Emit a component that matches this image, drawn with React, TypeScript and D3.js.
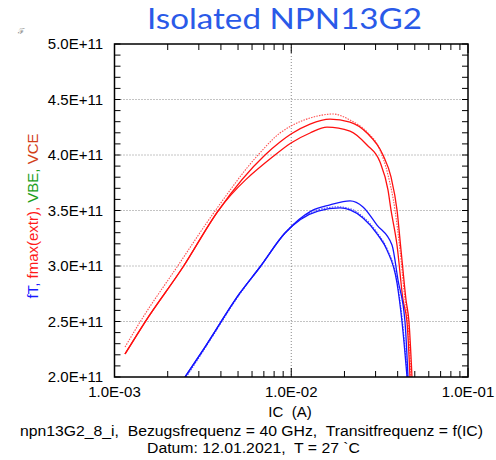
import React from "react";
import * as d3 from "d3";

// IC in mA, frequency in GHz
const r1IC = [1.147, 1.488, 2.441, 3.851, 7.104, 8.638, 9.968, 12.77, 16.57, 21.5, 26.83, 33.04, 36.67, 39.65, 41.78, 44.6, 46.37, 48.21];
const r1F = [220.7, 249.5, 299.1, 349.5, 400.0, 411.7, 418.9, 427.9, 432.4, 429.7, 419.8, 400.0, 380.2, 350.5, 314.4, 269.4, 249.5, 200];

const r2IC = [1.147, 1.488, 2.441, 3.851, 8.091, 9.968, 12.77, 15.93, 21.5, 26.83, 31.78, 35.26, 36.67, 39.65, 42.89, 45.18, 46.97];
const r2F = [220.7, 249.5, 299.1, 349.5, 400.0, 410.8, 419.8, 425.2, 421.6, 409.0, 393.7, 368.5, 350.5, 318.9, 269.4, 249.5, 200];

const r3IC = [1.147, 1.394, 2.258, 3.703, 6.485, 8.638, 9.968, 12.77, 17.23, 21.5, 26.83, 31.78, 35.26, 38.63, 41.24, 44.02, 45.77, 47.59];
const r3F = [227.0, 249.5, 299.1, 349.5, 400.0, 419.8, 426.1, 433.3, 436.9, 431.5, 420.7, 404.5, 382.0, 350.5, 314.4, 269.4, 249.5, 200];

const b1IC = [2.506, 3.251, 5.129, 6.656, 9.218, 12.94, 16.57, 21.5, 25.46, 30.56, 37.15, 40.18, 44.02, 45.77];
const b1F = [200, 227.0, 275.7, 299.1, 329.7, 349.5, 355.0, 358.6, 353.2, 336.9, 318.9, 287.4, 249.5, 200];

const b2IC = [2.506, 3.251, 5.129, 6.656, 9.218, 14.17, 18.87, 21.5, 25.46, 30.96, 34.8, 39.65, 42.34, 45.18];
const b2F = [200, 227.0, 275.7, 299.1, 329.7, 349.5, 352.3, 350.5, 343.2, 327.9, 314.4, 284.7, 249.5, 200];

const b3IC = [2.55, 3.3, 5.2, 6.7, 9.3, 14.0, 18.5, 21.5, 25.5, 31.0, 34.9, 39.8, 42.6, 45.4];
const b3F = [200, 227.5, 276.3, 299.8, 330.4, 350.4, 353.3, 351.6, 344.3, 328.8, 315.2, 285.3, 249.8, 200];

const yTicks = [2.0e11, 2.5e11, 3.0e11, 3.5e11, 4.0e11, 4.5e11, 5.0e11];
const yTickLabels = ["2.0E+11", "2.5E+11", "3.0E+11", "3.5E+11", "4.0E+11", "4.5E+11", "5.0E+11"];
const xTicks = [1e-3, 1e-2, 1e-1];
const xTickLabels = ["1.0E-03", "1.0E-02", "1.0E-01"];

const title = "Isolated NPN13G2";
const xLabel = "IC  (A)";
const footer1 = "npn13G2_8_i,  Bezugsfrequenz = 40 GHz,  Transitfrequenz = f(IC)";
const footer2 = "Datum: 12.01.2021,  T = 27 `C";
const yLabelParts = [
  { text: "fT, ", color: "#1a1aff" },
  { text: "fmax(extr), ", color: "#ff1a1a" },
  { text: "VBE, ", color: "#1aa01a" },
  { text: "VCE", color: "#d2401a" },
];

const W = 496, H = 460;
const L = 114.5, R = 468, T = 44, B = 377;

export default function App() {
  const x = d3.scaleLog().domain([1e-3, 1e-1]).range([L, R]);
  const y = d3.scaleLinear().domain([2e11, 5e11]).range([B, T]);
  const mk = (ic: number[], f: number[]) => {
    const pts = ic.map((v, i) => [v * 1e-3, f[i] * 1e9] as [number, number]);
    return d3.line<[number, number]>().x((d) => x(d[0])).y((d) => y(d[1])).curve(d3.curveMonotoneX)(pts) || "";
  };
  const minorX: number[] = [];
  for (let dec = 1e-3; dec < 1e-1; dec *= 10) for (let k = 2; k <= 9; k++) minorX.push(dec * k);
  const minorY: number[] = [];
  for (let v = 2e11; v <= 5e11 + 1; v += 0.1e11) minorY.push(v);

  const font = "'Liberation Sans', Arial, sans-serif";
  const pre = { whiteSpace: "pre" } as React.CSSProperties;
  const curves = [
    { d: mk(r3IC, r3F), c: "#ff5050", dash: "1.5,1.2", w: 1.1 },
    { d: mk(r1IC, r1F), c: "#ff1010", dash: "", w: 1.3 },
    { d: mk(r2IC, r2F), c: "#ff1010", dash: "", w: 1.3 },
    { d: mk(b3IC, b3F), c: "#5050ff", dash: "1.5,1.2", w: 1.1 },
    { d: mk(b1IC, b1F), c: "#1515ff", dash: "", w: 1.3 },
    { d: mk(b2IC, b2F), c: "#1515ff", dash: "", w: 1.3 },
  ];

  return (
    <svg width={W} height={H} style={{ position: "absolute", left: 0, top: 0, background: "#fff" }}>
      <defs>
        <clipPath id="plot">
          <rect x={L} y={T} width={R - L} height={B - T} />
        </clipPath>
      </defs>
      <text x={284.5} y={29} textAnchor="middle" fontFamily="Lato, 'Open Sans', sans-serif" fontSize={29} fill="#2a5ae8" textLength={275} lengthAdjust="spacingAndGlyphs">{title}</text>
      <text x={18} y={34} fontSize={8} fill="#888" fontFamily={font}>ℱ</text>
      {/* grid */}
      {yTicks.slice(1, -1).map((v) => (
        <line key={"gy" + v} x1={L} x2={R} y1={y(v)} y2={y(v)} stroke="#888" strokeDasharray="1,2" strokeWidth={1} />
      ))}
      <line x1={x(1e-2)} x2={x(1e-2)} y1={T} y2={B} stroke="#888" strokeDasharray="1,2" strokeWidth={1} />
      {/* curves */}
      <g clipPath="url(#plot)">
        {curves.map((c, i) => (
          <path key={i} d={c.d} fill="none" stroke={c.c} strokeWidth={c.w} strokeDasharray={c.dash || undefined} />
        ))}
      </g>
      {/* ticks */}
      {minorX.map((v) => (
        <g key={"mx" + v}>
          <line x1={x(v)} x2={x(v)} y1={B} y2={B - 6} stroke="#000" />
          <line x1={x(v)} x2={x(v)} y1={T} y2={T + 6} stroke="#000" />
        </g>
      ))}
      {xTicks.map((v) => (
        <g key={"Mx" + v}>
          <line x1={x(v)} x2={x(v)} y1={B} y2={B - 9} stroke="#000" />
          <line x1={x(v)} x2={x(v)} y1={T} y2={T + 9} stroke="#000" />
        </g>
      ))}
      {minorY.map((v) => (
        <g key={"my" + v}>
          <line x1={L} x2={L + 6} y1={y(v)} y2={y(v)} stroke="#000" />
          <line x1={R} x2={R - 6} y1={y(v)} y2={y(v)} stroke="#000" />
        </g>
      ))}
      <rect x={L} y={T} width={R - L} height={B - T} fill="none" stroke="#000" strokeWidth={1.5} />
      {/* tick labels */}
      {yTicks.map((v, i) => (
        <text key={"ly" + v} x={103} y={y(v) + 5} textAnchor="end" fontFamily={font} fontSize={15} fill="#000">{yTickLabels[i]}</text>
      ))}
      {xTicks.map((v, i) => (
        <text key={"lx" + v} x={x(v)} y={397} textAnchor="middle" fontFamily={font} fontSize={15} fill="#000">{xTickLabels[i]}</text>
      ))}
      <text x={290} y={417} textAnchor="middle" fontFamily={font} fontSize={15} fill="#000" style={pre}>{xLabel}</text>
      <text x={251.5} y={436} textAnchor="middle" fontFamily={font} fontSize={14} fill="#000" style={pre} textLength={463} lengthAdjust="spacingAndGlyphs">{footer1}</text>
      <text x={253.5} y={453} textAnchor="middle" fontFamily={font} fontSize={14} fill="#000" style={pre} textLength={213} lengthAdjust="spacingAndGlyphs">{footer2}</text>
      <text transform={`translate(38,216) rotate(-90)`} textAnchor="middle" fontFamily={font} fontSize={15} style={pre}>
        {yLabelParts.map((p, i) => (
          <tspan key={i} fill={p.color}>{p.text}</tspan>
        ))}
      </text>
    </svg>
  );
}
